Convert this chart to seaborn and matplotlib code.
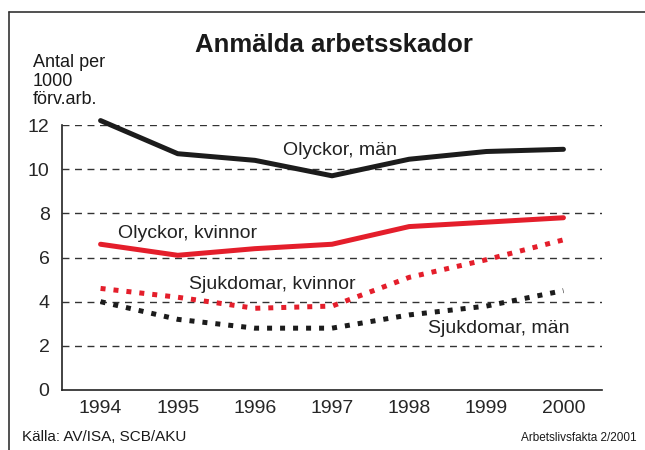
import numpy as np
import pandas as pd
import matplotlib
matplotlib.use("Agg")
import matplotlib.pyplot as plt
import seaborn as sns
from matplotlib.lines import Line2D

years = [1994, 1995, 1996, 1997, 1998, 1999, 2000]
olyckor_man = [12.2, 10.7, 10.4, 9.7, 10.45, 10.8, 10.9]
olyckor_kvinnor = [6.6, 6.1, 6.4, 6.6, 7.4, 7.6, 7.8]
sjukdomar_kvinnor = [4.6, 4.2, 3.7, 3.8, 5.1, 5.9, 6.8]
sjukdomar_man = [4.0, 3.2, 2.8, 2.8, 3.4, 3.8, 4.5]

y_ticks = [0, 2, 4, 6, 8, 10, 12]

red = "#e41e2b"
black = "#1c1c1c"

sns.set_style("white")
plt.rcParams["font.family"] = ["Liberation Sans", "DejaVu Sans"]

fig = plt.figure(figsize=(6.45, 4.5), dpi=100)
ax = fig.add_axes([62 / 645, 1 - 390 / 450, 540 / 645, 265 / 450])

# dashed grid behind the lines
for v in y_ticks[1:]:
    ax.axhline(v, color="#333333", lw=1.0, ls=(0, (5, 4)), zorder=1)

series = [
    (olyckor_man, black, "-"),
    (olyckor_kvinnor, red, "-"),
    (sjukdomar_kvinnor, red, (0, (1, 1.6))),
    (sjukdomar_man, black, (0, (1, 1.6))),
]
for vals, col, ls in series:
    df = pd.DataFrame({"year": years, "value": vals})
    sns.lineplot(data=df, x="year", y="value", color=col, lw=3.6,
                 ax=ax, zorder=3, solid_capstyle="round", clip_on=False)
    ax.lines[-1].set_linestyle(ls)
    if ls != "-":
        ax.lines[-1].set_dash_capstyle("butt")

ax.set_xlim(1993.5, 2000.5)
ax.set_ylim(0, 12)
ax.set_xticks(years)
ax.set_xticklabels([str(y) for y in years], fontsize=14)
ax.set_xticks([y + 0.5 for y in years], minor=True)
ax.tick_params(axis="x", which="major", length=0, pad=7)
ax.tick_params(axis="x", which="minor", direction="in", length=5, width=1, color="#222222")
ax.set_yticks(y_ticks)
ax.set_yticklabels([str(v) for v in y_ticks], fontsize=14)
ax.tick_params(axis="y", length=0, pad=9)
ax.set_xlabel("")
ax.set_ylabel("")

for s in ["top", "right"]:
    ax.spines[s].set_visible(False)
for s in ["left", "bottom"]:
    ax.spines[s].set_color("#222222")
    ax.spines[s].set_linewidth(1.2)

ax.text(1996.36, 10.85, "Olyckor, män", fontsize=14, va="center", color="#222222")
ax.text(1994.23, 7.1, "Olyckor, kvinnor", fontsize=14, va="center", color="#222222")
ax.text(1995.14, 4.78, "Sjukdomar, kvinnor", fontsize=14, va="center", color="#222222")
ax.text(1998.25, 2.8, "Sjukdomar, män", fontsize=14, va="center", color="#222222")

fig.text(334 / 645, 1 - 45 / 450, "Anmälda arbetsskador", fontsize=18.5,
         fontweight="bold", ha="center", va="center", color="#1a1a1a")
fig.text(33 / 645, 1 - 54 / 450, "Antal per\n1000\nförv.arb.", fontsize=13,
         ha="left", va="top", linespacing=1.12, color="#1a1a1a")
fig.text(22 / 645, 1 - 437 / 450, "Källa: AV/ISA, SCB/AKU", fontsize=11,
         ha="left", va="center", color="#1a1a1a")
fig.text(637 / 645, 1 - 438 / 450, "Arbetslivsfakta 2/2001", fontsize=8.5,
         ha="right", va="center", color="#1a1a1a")

# frame around the figure (top and left edges)
fig.add_artist(Line2D([9 / 645, 1], [1 - 12 / 450, 1 - 12 / 450],
                      transform=fig.transFigure, color="#333333", lw=1.2))
fig.add_artist(Line2D([9 / 645, 9 / 645], [0, 1 - 12 / 450],
                      transform=fig.transFigure, color="#333333", lw=1.2))

fig.savefig("out.png", dpi=100)
